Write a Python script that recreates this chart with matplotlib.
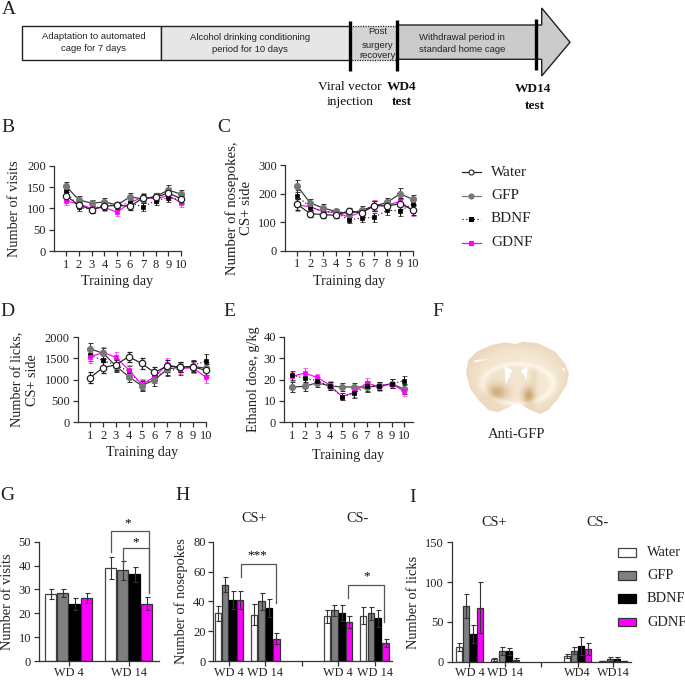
# -*- coding: UTF-8 -*-
import numpy as np
import matplotlib
matplotlib.use("Agg")
import matplotlib.pyplot as plt
from matplotlib.patches import Polygon, Rectangle
from matplotlib.colors import to_rgb

plt.rcParams["font.family"] = ["Liberation Serif", "DejaVu Serif"]
plt.rcParams["axes.linewidth"] = 0.9

W, H = 685, 680

# 组别
groups = ["Water", "GFP", "BDNF", "GDNF"]
days = list(range(1, 11))

# B: visits
visits_water = [129, 108, 97, 105, 107, 105, 124, 126, 136, 122]
visits_gfp = [152, 120, 112, 115, 108, 127, 122, 128, 143, 133]
visits_bdnf = [140, 102, 98, 108, 107, 113, 103, 118, 125, 120]
visits_gdnf = [117, 110, 100, 102, 91, 113, 127, 122, 130, 113]
visits_err = [10, 8, 8, 9, 8, 8, 9, 9, 11, 10]

# C: nosepokes
pokes_water = [163, 130, 127, 124, 140, 133, 158, 157, 165, 143]
pokes_gfp = [227, 168, 150, 138, 130, 142, 157, 170, 200, 180]
pokes_bdnf = [192, 153, 138, 135, 108, 115, 117, 142, 140, 165]
pokes_gdnf = [160, 155, 137, 135, 118, 137, 160, 160, 173, 140]
pokes_err = [20, 13, 13, 8, 10, 14, 17, 15, 19, 17]

# D: licks
licks_water = [1050, 1280, 1350, 1540, 1380, 1170, 1320, 1300, 1300, 1220]
licks_gfp = [1720, 1620, 1320, 1070, 860, 990, 1250, 1290, 1310, 1270]
licks_bdnf = [1570, 1450, 1340, 1200, 880, 1040, 1220, 1240, 1330, 1440]
licks_gdnf = [1530, 1640, 1520, 1230, 890, 1060, 1360, 1260, 1280, 1060]
licks_err = [130, 130, 130, 120, 120, 130, 140, 120, 130, 150]

# E: ethanol dose
dose_gfp = [16.5, 16.8, 18.5, 17, 16.5, 16.5, 16.5, 17, 18, 15.5]
dose_bdnf = [22, 20.5, 19.5, 17, 12, 13.5, 17, 17, 18, 19.5]
dose_gdnf = [21.5, 23, 21, 17.5, 12, 14, 18.5, 16.5, 18, 14.5]
dose_err = [2.2, 2.2, 1.8, 2, 1.7, 2, 2.2, 1.9, 2.2, 2.2]

# G: WD test visits
g_vals = [[28, 28.5, 24, 26.5], [39, 38, 36.3, 24]]
g_errs = [[2, 1.5, 2.5, 2.2], [4.5, 4, 3.3, 2.7]]

# H: WD test nosepokes
h_vals = [[32, 51, 41, 41], [31, 40, 35.5, 15], [30, 34, 32, 26], [30.5, 32, 28.5, 12]]
h_errs = [[5, 5, 6, 6], [7, 5.5, 6, 3.5], [4.5, 3.8, 5.5, 4], [6, 4.5, 5.5, 2.5]]

# I: WD test licks
i_vals = [[18, 70, 35, 68], [3, 14, 13, 2.5], [7, 14, 19.5, 16], [1, 3.5, 3.5, 1]]
i_errs = [[5, 15, 11, 32], [1.5, 5, 4.5, 2], [2.5, 4, 11, 7], [0.5, 2, 2, 0.5]]

bar_colors = ["white", "#7f7f7f", "black", "#ff00ff"]
edge_colors = ["#444444", "#333333", "black", "#333333"]

styles = {
    "Water": dict(color="#222222", ls="-", marker="o", mfc="white", mec="#222222", ms=4.6, mew=0.9),
    "GFP": dict(color="#333333", ls="-", marker="o", mfc="#777777", mec="#777777", ms=4.4, mew=0.7),
    "BDNF": dict(color="#222222", ls=(0, (1, 2)), marker="s", mfc="black", mec="black", ms=2.8, mew=0.5),
    "GDNF": dict(color="#ff00ff", ls="-", marker="s", mfc="#ff00ff", mec="#ff00ff", ms=2.8, mew=0.5),
}
err_colors = {"Water": "#222222", "GFP": "#333333", "BDNF": "#111111", "GDNF": "#ff33ee"}

fig = plt.figure(figsize=(W / 100, H / 100), dpi=100)


def px_axes(left, top, right, bottom):
    return fig.add_axes([left / W, 1 - bottom / H, (right - left) / W, (bottom - top) / H])


# 整幅图的像素坐标层
bg = fig.add_axes([0, 0, 1, 1], zorder=0)
bg.set_xlim(0, W)
bg.set_ylim(H, 0)
bg.axis("off")
top = fig.add_axes([0, 0, 1, 1], zorder=10)
top.set_xlim(0, W)
top.set_ylim(H, 0)
top.axis("off")


def line_panel(box, x1, x10, ymax, yticks, series, err, ylabel, label_x, xlabel_pos, ylabel_size=10.4):
    left, t, r, b = box
    ax = px_axes(left, t, r, b)
    step = (x10 - x1) / 9
    ax.set_xlim(1 - (x1 - left) / step, 1 + (r - x1) / step)
    ax.set_ylim(0, ymax)
    for name, vals in series:
        st = styles[name]
        ax.errorbar(days, vals, yerr=err, color=st["color"], ls=st["ls"], lw=0.85,
                    marker=st["marker"], mfc=st["mfc"], mec=st["mec"], ms=st["ms"], mew=st["mew"],
                    ecolor=err_colors[name], elinewidth=0.8, capsize=1.8, capthick=0.8,
                    clip_on=False, zorder=3)
    ax.set_xticks(days)
    ax.set_yticks(yticks)
    ax.tick_params(length=3.6, width=0.9, labelsize=9, pad=2, color="#333333", labelcolor="#222222")
    for s in ["top", "right"]:
        ax.spines[s].set_visible(False)
    for s in ["left", "bottom"]:
        ax.spines[s].set_color("#333333")
    top.text(xlabel_pos[0], xlabel_pos[1], "Training day", fontsize=10.2,
             ha="center", va="center", color="#222222")
    top.text(label_x, (t + b) / 2, ylabel, fontsize=ylabel_size, rotation=90, ha="center",
             va="center", color="#222222", linespacing=1.15)
    return ax


line_panel((53.7, 165.7, 181.3, 251), 66, 181.3, 200, [0, 50, 100, 150, 200],
           [("GDNF", visits_gdnf), ("BDNF", visits_bdnf), ("GFP", visits_gfp), ("Water", visits_water)],
           visits_err, "Number of visits", 15, (117.3, 281.7))
line_panel((284.7, 165.3, 413, 250.7), 297.3, 413, 300, [0, 100, 200, 300],
           [("GDNF", pokes_gdnf), ("BDNF", pokes_bdnf), ("GFP", pokes_gfp), ("Water", pokes_water)],
           pokes_err, "Number of nosepokes,\nCS+ side", 239, (349, 281.7), ylabel_size=10.6)
line_panel((77.7, 337, 205.7, 422.3), 90.3, 205.7, 2000, [0, 500, 1000, 1500, 2000],
           [("BDNF", licks_bdnf), ("GDNF", licks_gdnf), ("GFP", licks_gfp), ("Water", licks_water)],
           licks_err, "Number of licks,\nCS+ side", 25, (141.7, 452.7), ylabel_size=10.2)
line_panel((284, 336.7, 412.7, 422.3), 292.3, 404, 40, [0, 10, 20, 30, 40],
           [("GFP", dose_gfp), ("GDNF", dose_gdnf), ("BDNF", dose_bdnf)],
           dose_err, "Ethanol dose, g/kg", 254, (348.3, 455.7), ylabel_size=10.2)


def bar_panel(box, x0, step, starts, ymax, yticks, vals, errs, ylabel, label_x, width, ticks, ticklabels):
    left, t, r, b = box
    ax = px_axes(left, t, r, b)
    ax.set_xlim((left - x0) / step, (r - x0) / step)
    ax.set_ylim(0, ymax)
    for start, v, e in zip(starts, vals, errs):
        for j in range(4):
            ax.bar(start + j, v[j], width=width, color=bar_colors[j], edgecolor=edge_colors[j], lw=0.9,
                   zorder=2)
            ax.errorbar(start + j, v[j], yerr=e[j], color="#333333", elinewidth=0.8, capsize=1.8,
                        capthick=0.8, zorder=3, clip_on=False)
    ax.set_xticks(ticks)
    ax.set_xticklabels(ticklabels)
    ax.set_yticks(yticks)
    ax.tick_params(length=3.6, width=0.9, labelsize=9, pad=2, color="#333333", labelcolor="#222222")
    ax.tick_params(axis="x", pad=0.5, labelsize=8.8)
    for s in ["top", "right"]:
        ax.spines[s].set_visible(False)
    for s in ["left", "bottom"]:
        ax.spines[s].set_color("#333333")
    top.text(label_x, (t + b) / 2, ylabel, fontsize=10.4, rotation=90, ha="center", va="center",
             color="#222222")
    return ax


def bracket(ax, x1, x2, ytop, y1, y2):
    ax.plot([x1, x1, x2, x2], [y1, ytop, ytop, y2], color="#555555", lw=0.9, clip_on=False, zorder=4)


ax_g = bar_panel((39, 541.7, 158.7, 661), 50.7, 12, [0, 5], 50, [0, 10, 20, 30, 40, 50],
                 g_vals, g_errs, "Number of visits", 7.5, 0.92, [1.5, 6.5], ["WD 4", "WD 14"])
bracket(ax_g, 5, 8.17, 54.6, 45.8, 28.5)
bracket(ax_g, 6.05, 8.17, 47.3, 39.4, 28.5)
ax_g.text(6.45, 55.2, "*", ha="center", va="bottom", fontsize=9.5)
ax_g.text(7.05, 47.4, "*", ha="center", va="bottom", fontsize=9.5)

ax_h = bar_panel((213.3, 541.7, 391.7, 661), 217.7, 7.43, [0, 4.9, 14.7, 19.6], 80, [0, 20, 40, 60, 80],
                 h_vals, h_errs, "Number of nosepokes", 181, 0.85,
                 [1.48, 6.37, 11.3, 16.2, 21.2], ["WD 4", "WD 14", "", "WD 4", "WD 14"])
bracket(ax_h, 3.09, 7.85, 65.2, 56.5, 38.9)
bracket(ax_h, 17.6, 22.4, 50.8, 42, 26.4)
ax_h.text(5.3, 67, "***", ha="center", va="bottom", fontsize=9.5)
ax_h.text(20, 52.5, "*", ha="center", va="bottom", fontsize=9.5)

ax_i = bar_panel((451.7, 542.3, 631, 661.7), 458.7, 7.17, [0, 4.98, 15.07, 20.05], 150, [0, 50, 100, 150],
                 i_vals, i_errs, "Number of licks", 414, 0.85,
                 [1.5, 6.48, 11.53, 16.57, 21.55], ["WD 4", "WD 14", "", "WD4", "WD14"])

# A: 时间轴
gray_a = "#cbcbcb"
bg.add_patch(Rectangle((22.3, 26), 138.5, 34.3, fc="white", ec="#222222", lw=1.0))
bg.add_patch(Rectangle((160.8, 26), 189.6, 34.3, fc="#e6e6e6", ec="#222222", lw=1.0))
bg.add_patch(Rectangle((350.4, 26), 46.3, 34.3, fc="#d4d4d4", ec="#222222", lw=0.9, ls=(0, (1, 1))))
arrow_pts = [(396.7, 25), (541.7, 25), (541.7, 8), (570, 42.3), (541.7, 76), (541.7, 59.3), (396.7, 59.3)]
bg.add_patch(Polygon(arrow_pts, closed=True, fc=gray_a, ec="#222222", lw=1.0))
for xm, y0, y1 in [(350.4, 20.7, 71.3), (396.7, 20, 71.3), (536.5, 19.3, 70.3)]:
    bg.plot([xm, xm], [y0, y1], color="black", lw=2.4, solid_capstyle="butt")

sans = ["Liberation Sans", "DejaVu Sans"]
for x, y, s in [(94, 36.7, "Adaptation to automated"), (94, 48.3, "cage for 7 days"),
                (250, 38, "Alcohol drinking conditioning"), (250, 49.7, "period for 10 days"),
                (378, 32, "Post"), (378, 45, "surgery"), (378, 56, "recovery"),
                (462, 37.7, "Withdrawal period in"), (462, 49.3, "standard home cage")]:
    top.text(x, y, s, family=sans, fontsize=6.8, ha="center", va="center", color="#222222")
for x, y, s, w in [(350, 86.7, "Viral vector", "normal"), (350, 102, "injection", "normal"),
                   (402, 86.7, "WD4", "bold"), (402, 102, "test", "bold"),
                   (533, 89.3, "WD14", "bold"), (535, 106, "test", "bold")]:
    top.text(x, y, s, fontsize=9.6, fontweight=w, ha="center", va="center", color="#111111")

# 图例
leg_y = [172.3, 195.7, 219, 242.7]
for y, name in zip(leg_y, groups):
    st = styles[name]
    color = "#777777" if name == "GFP" else st["color"]
    top.plot([462, 481], [y, y], color=color, ls=st["ls"], lw=0.9)
    top.plot([471.5], [y], marker=st["marker"], mfc=st["mfc"], mec=st["mec"],
             ms=3.6 if st["marker"] == "o" else 2.6, mew=0.8, ls="none")
    top.text(491, y, name, fontsize=11, va="center", color="#222222")

leg2_y = [552.3, 575.7, 598.7, 622]
for y, name, fc, ec in zip(leg2_y, groups, bar_colors, edge_colors):
    top.add_patch(Rectangle((617.7, y - 4.3), 18.6, 8.6, fc=fc, ec=ec, lw=0.9))
    top.text(647, y, name, fontsize=10.4, va="center", color="#222222")

# F: 脑切片
outline = [(182, 42), (205, 35), (250, 40), (300, 65), (330, 100), (342, 130), (335, 165), (310, 205),
           (280, 240), (255, 252), (225, 240), (195, 222), (178, 222), (160, 232), (130, 247), (100, 240),
           (70, 210), (45, 175), (33, 130), (40, 90), (65, 65), (110, 45), (150, 37)]


def zoom_px(p):
    return (455 + p[0] / 3, 330 + p[1] / 3)


yy, xx = np.mgrid[0:95, 0:125]
xz, yz = xx * 3.0, yy * 3.0
tint = 0.12 + 0.05 * np.exp(-(((xz - 120) / 60) ** 2 + ((yz - 160) / 60) ** 2))
tint += 0.1 * np.clip(np.hypot((xz - 187) / 150, (yz - 145) / 105) - 0.7, 0, 1) / 0.3
for cx, cy, rx, ry, amp in [(125, 185, 30, 22, 0.45), (220, 195, 18, 26, 0.55), (235, 140, 10, 30, 0.12)]:
    tint += amp * np.exp(-(((xz - cx) / rx) ** 2 + ((yz - cy) / ry) ** 2))
tint -= 0.12 * np.exp(-((np.hypot((xz - 187) / 105, (yz - 160) / 60) - 1) / 0.12) ** 2)
tint = np.clip(tint, 0, 1)[..., None]
light, dark = np.array(to_rgb("#fdf6e8")), np.array(to_rgb("#b57f3c"))
img = light * (1 - tint) + dark * tint
brain = Polygon([zoom_px(p) for p in outline], closed=True, transform=top.transData, fc="none", ec="none")
top.add_patch(brain)
im = top.imshow(img, extent=(455, 580, 425, 330), aspect="auto", interpolation="bilinear", zorder=2)
im.set_clip_path(brain)
top.set_xlim(0, W)
top.set_ylim(H, 0)
for tri in [[(148, 108), (172, 120), (152, 165)], [(198, 122), (218, 110), (215, 148)],
            [(55, 92), (110, 85), (60, 97)], [(320, 115), (330, 115), (328, 125)]]:
    top.add_patch(Polygon([zoom_px(p) for p in tri], closed=True, fc="white", ec="none", zorder=3))
top.text(517, 434, "Anti-GFP", fontsize=10.5, ha="center", va="center", color="#222222")

# 字母标签
for x, y, s in [(9, 9, "A"), (8, 128, "B"), (224, 128, "C"), (7, 311, "D"), (229, 312, "E"),
                (438, 312, "F"), (7, 496, "G"), (183, 496, "H"), (413, 497, "I")]:
    top.text(x, y, s, fontsize=14, ha="center", va="center", color="#222222")

# CS+ / CS-
for x, y, s in [(254, 519, "CS+"), (358, 519, "CS-"), (494, 522, "CS+"), (598, 522, "CS-")]:
    top.text(x, y, s, fontsize=10.3, ha="center", va="center", color="#222222")

fig.savefig("out.png", dpi=100)
